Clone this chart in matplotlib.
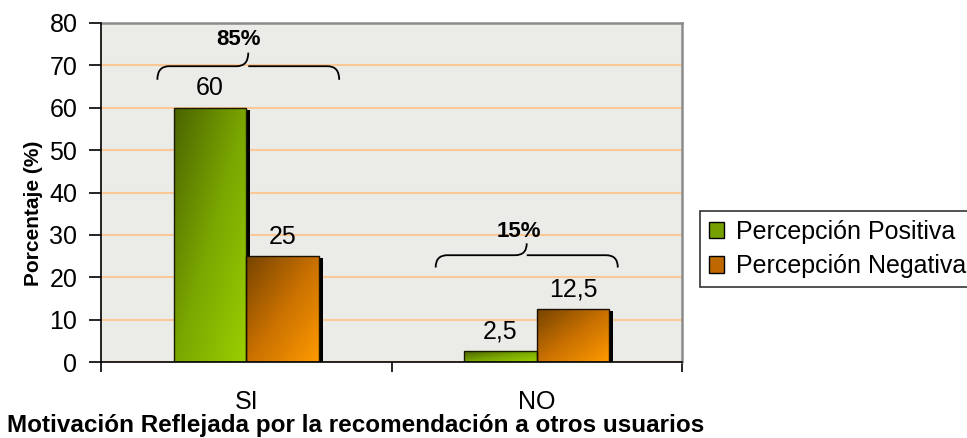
import matplotlib
matplotlib.use("Agg")

import matplotlib.pyplot as plt
import numpy as np
from matplotlib.colors import LinearSegmentedColormap
from matplotlib.patches import PathPatch, Patch
from matplotlib.path import Path
from matplotlib.transforms import ScaledTranslation

plt.rcParams["font.family"] = ["Liberation Sans", "DejaVu Sans"]

categories = ["SI", "NO"]
series_names = ["Percepción Positiva", "Percepción Negativa"]
positiva = [60, 2.5]
negativa = [25, 12.5]
group_totals = ["85%", "15%"]
y_ticks = [0, 10, 20, 30, 40, 50, 60, 70, 80]

GREEN = LinearSegmentedColormap.from_list("green", ["#4a6400", "#7aa600", "#9ccf00"])
ORANGE = LinearSegmentedColormap.from_list("orange", ["#774400", "#c87000", "#ff9a00"])


def fmt(v):
    return f"{v:g}".replace(".", ",")


def gradient_bars(ax, bars, cmap):
    """Fill each bar with a diagonal gradient, dark top-left to bright bottom-right."""
    n = 64
    u, v = np.meshgrid(np.linspace(0, 1, n), np.linspace(0, 1, n))
    grad = (u + v) / 2
    for b in bars:
        x0, w, h = b.get_x(), b.get_width(), b.get_height()
        im = ax.imshow(grad, cmap=cmap, extent=(x0, x0 + w, 0, h), origin="upper",
                       aspect="auto", zorder=3, interpolation="bilinear")
        im.set_clip_path(b)


def brace(ax, x0, x1, y_end, y_mid, y_tip, q=0.04):
    xm = (x0 + x1) / 2
    verts = [
        (x0, y_end), (x0, y_mid), (x0 + q, y_mid),
        (xm - q, y_mid),
        (xm, y_mid), (xm, y_tip),
        (xm, y_mid), (xm + q, y_mid),
        (x1 - q, y_mid),
        (x1, y_mid), (x1, y_end),
    ]
    codes = [Path.MOVETO, Path.CURVE3, Path.CURVE3, Path.LINETO,
             Path.CURVE3, Path.CURVE3, Path.MOVETO, Path.CURVE3,
             Path.LINETO, Path.CURVE3, Path.CURVE3]
    ax.add_patch(PathPatch(Path(verts, codes), fill=False, lw=1.3,
                           edgecolor="black", zorder=5, clip_on=False))


fig = plt.figure(figsize=(9.67, 4.38), dpi=100)
ax = fig.add_axes([101 / 967, 76 / 438, 581 / 967, 339 / 438])
ax.set_facecolor("#ebebe7")

x = np.arange(len(categories))
w = 0.25
shadow = ax.transData + ScaledTranslation(4 / 100, -2 / 100, fig.dpi_scale_trans)

for vals, off in ((positiva, -w / 2), (negativa, w / 2)):
    ax.bar(x + off, vals, w, color="black", transform=shadow, zorder=2)

b_pos = ax.bar(x - w / 2, positiva, w, facecolor="none", edgecolor="#1a1a00",
               lw=1.0, zorder=4)
b_neg = ax.bar(x + w / 2, negativa, w, facecolor="none", edgecolor="#1a1000",
               lw=1.0, zorder=4)
gradient_bars(ax, b_pos, GREEN)
gradient_bars(ax, b_neg, ORANGE)

for bars, vals in ((b_pos, positiva), (b_neg, negativa)):
    for b, v in zip(bars, vals):
        ax.text(b.get_x() + b.get_width() / 2, v + 4.6, fmt(v), ha="center",
                va="center", fontsize=18, zorder=6)

# group braces with their totals
brace(ax, x[0] - 0.306, x[0] + 0.32, 66.6, 69.8, 73.0)
ax.text(x[0] - 0.028, 76.0, group_totals[0], ha="center", va="center",
        fontsize=16, fontweight="bold", zorder=6)
brace(ax, x[1] - 0.348, x[1] + 0.279, 22.3, 25.2, 28.0)
ax.text(x[1] - 0.062, 30.8, group_totals[1], ha="center", va="center",
        fontsize=16, fontweight="bold", zorder=6)

ax.set_xlim(-0.5, 1.5)
ax.set_ylim(0, 80)
ax.set_yticks(y_ticks)
ax.tick_params(axis="y", labelsize=18, length=9, width=1.2, direction="out", pad=8)
ax.set_xticks([-0.5, 0.5, 1.5])
ax.set_xticklabels([])
ax.tick_params(axis="x", which="major", length=7, width=1.2, direction="out")
ax.set_xticks(x, minor=True)
ax.set_xticklabels(categories, minor=True, fontsize=18)
ax.tick_params(axis="x", which="minor", length=0, pad=20)

ax.grid(axis="y", color="#fcc896", lw=1.5, zorder=1)
ax.set_axisbelow(True)
for side in ("top", "right"):
    ax.spines[side].set_color("#8c8c8c")
    ax.spines[side].set_linewidth(1.8)
for side in ("left", "bottom"):
    ax.spines[side].set_color("black")
    ax.spines[side].set_linewidth(1.2)
    ax.spines[side].set_zorder(7)

ax.set_ylabel("Porcentaje (%)", fontsize=15, fontweight="bold")
ax.yaxis.set_label_coords(-0.100, 0.44)
ax.set_xlabel("Motivación Reflejada por la recomendación a otros usuarios",
              fontsize=17.5, fontweight="bold")
ax.xaxis.set_label_coords(-0.162, -0.187)
ax.xaxis.label.set_ha("left")
ax.xaxis.label.set_va("center")

handles = [Patch(facecolor="#75a000", edgecolor="black", lw=1.0),
           Patch(facecolor="#c06800", edgecolor="black", lw=1.0)]
leg = fig.legend(handles, series_names, loc="upper left",
                 bbox_to_anchor=(700 / 967, 1 - 211 / 438), fontsize=18,
                 frameon=True, fancybox=False, edgecolor="black",
                 handlelength=0.62, handleheight=0.62, handletextpad=0.45,
                 borderpad=0.35, labelspacing=0.42, borderaxespad=0)
leg.get_frame().set_linewidth(1.2)

fig.savefig("out.png", dpi=100)
